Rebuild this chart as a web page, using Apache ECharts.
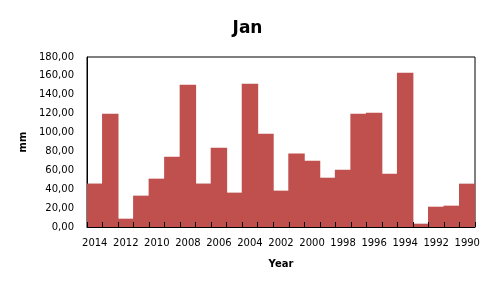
<!DOCTYPE html>
<html><head><meta charset="utf-8">
<script src="https://cdn.jsdelivr.net/npm/echarts@6/dist/echarts.min.js"></script>
<style>html,body{margin:0;padding:0;background:#fff}#c{width:495px;height:290px}</style>
</head><body><div id="c"></div>
<script>
const years = ['2014','2013','2012','2011','2010','2009','2008','2007','2006','2005','2004','2003','2002','2001','2000','1999','1998','1997','1996','1995','1994','1993','1992','1991','1990'];
const values = [46,120,8.8,33.2,51.2,74.5,150.7,46,84,36.4,151.8,98.8,38.5,77.7,70.2,52.2,60.7,120,121,56.5,163.4,3.5,21.5,22.6,45.9];
const chart = echarts.init(document.getElementById('c'));
const font = 'DejaVu Sans';
chart.setOption({
  animation: false,
  title: {text: 'Jan', left: 'center', top: 15, textStyle: {fontFamily: font, fontSize: 17, fontWeight: 'bold', color: '#000'}},
  grid: {left: 87, right: 20, top: 57, bottom: 63, show: true, borderColor: '#000', borderWidth: 1},
  xAxis: {
    type: 'category', data: years, name: 'Year', nameLocation: 'middle', nameGap: 32, z: 5,
    nameTextStyle: {fontFamily: font, fontSize: 10, fontWeight: 'bold', color: '#000'},
    axisLine: {lineStyle: {color: '#000'}},
    axisTick: {show: true, inside: true, length: 5, interval: 0, lineStyle: {color: '#000'}},
    splitLine: {show: false},
    axisLabel: {interval: 1, fontFamily: font, fontSize: 10, color: '#000', margin: 11}
  },
  yAxis: {
    type: 'value', min: 0, max: 180, interval: 20, name: 'mm', nameLocation: 'middle', nameGap: 48,
    nameTextStyle: {fontFamily: font, fontSize: 10, fontWeight: 'bold', color: '#000'},
    axisLine: {show: true, lineStyle: {color: '#000'}},
    axisTick: {show: false},
    splitLine: {show: false},
    axisLabel: {fontFamily: font, fontSize: 10, color: '#000', margin: 13, formatter: v => v.toFixed(2).replace('.', ',')}
  },
  series: [{type: 'bar', data: values, barWidth: '106%', itemStyle: {color: '#C0504D'}}]
});
</script></body></html>
